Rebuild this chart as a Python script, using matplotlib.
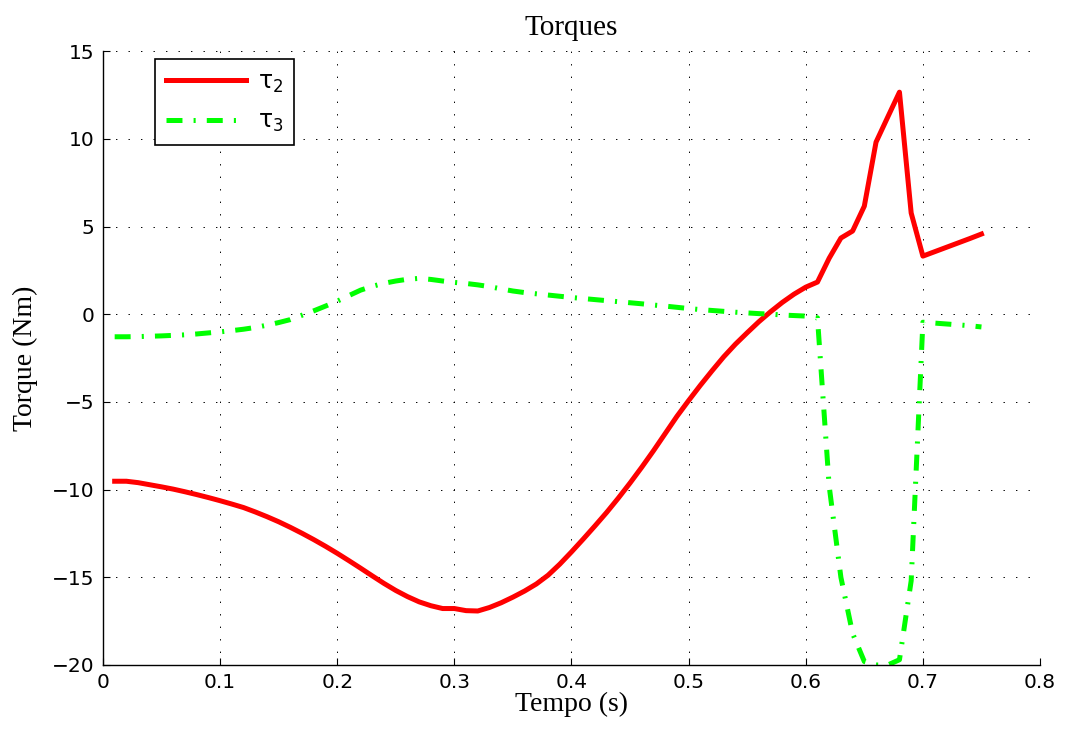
import matplotlib
matplotlib.use('Agg')
import matplotlib.pyplot as plt
import numpy as np

# tempo (s)
tempo = [0.01, 0.02, 0.03, 0.04, 0.05, 0.06, 0.07, 0.08, 0.09, 0.10,
         0.11, 0.12, 0.13, 0.14, 0.15, 0.16, 0.17, 0.18, 0.19, 0.20,
         0.21, 0.22, 0.23, 0.24, 0.25, 0.26, 0.27, 0.28, 0.29, 0.30,
         0.31, 0.32, 0.33, 0.34, 0.35, 0.36, 0.37, 0.38, 0.39, 0.40,
         0.41, 0.42, 0.43, 0.44, 0.45, 0.46, 0.47, 0.48, 0.49, 0.50,
         0.51, 0.52, 0.53, 0.54, 0.55, 0.56, 0.57, 0.58, 0.59, 0.60,
         0.61, 0.62, 0.63, 0.64, 0.65, 0.66, 0.67, 0.68, 0.69, 0.70,
         0.71, 0.72, 0.73, 0.74, 0.75]

tau2 = [-9.52, -9.52, -9.60, -9.72, -9.84, -9.97, -10.12, -10.28, -10.45, -10.63,
        -10.82, -11.02, -11.27, -11.54, -11.83, -12.15, -12.49, -12.85, -13.23, -13.63,
        -14.05, -14.48, -14.92, -15.35, -15.75, -16.10, -16.40, -16.62, -16.78, -16.78,
        -16.90, -16.92, -16.72, -16.45, -16.13, -15.78, -15.38, -14.88, -14.25, -13.55,
        -12.82, -12.07, -11.30, -10.48, -9.62, -8.72, -7.78, -6.80, -5.82, -4.92,
        -4.05, -3.22, -2.42, -1.70, -1.05, -0.42, 0.15, 0.68, 1.15, 1.55,
        1.84, 3.20, 4.35, 4.75, 6.17, 9.82, 11.25, 12.67, 5.78, 3.32,
        3.57, 3.82, 4.07, 4.32, 4.58]

tau3 = [-1.28, -1.28, -1.27, -1.25, -1.23, -1.20, -1.17, -1.12, -1.06, -1.00,
        -0.93, -0.85, -0.75, -0.62, -0.47, -0.30, -0.05, 0.20, 0.47, 0.75,
        1.07, 1.38, 1.60, 1.77, 1.90, 2.00, 2.05, 1.99, 1.90, 1.82,
        1.76, 1.68, 1.58, 1.45, 1.33, 1.24, 1.17, 1.10, 1.03, 0.96,
        0.90, 0.84, 0.78, 0.72, 0.66, 0.60, 0.53, 0.47, 0.40, 0.33,
        0.27, 0.22, 0.17, 0.12, 0.08, 0.04, 0.01, -0.04, -0.07, -0.10,
        -0.20, -9.80, -15.00, -18.20, -19.80, -20.00, -20.00, -19.70, -15.20, -0.45,
        -0.50, -0.55, -0.60, -0.65, -0.72]

xticks = [0, 0.1, 0.2, 0.3, 0.4, 0.5, 0.6, 0.7, 0.8]
xticklabels = ['0', '0.1', '0.2', '0.3', '0.4', '0.5', '0.6', '0.7', '0.8']
yticks = [-20, -15, -10, -5, 0, 5, 10, 15]

plt.rcParams['lines.scale_dashes'] = False
plt.rcParams['mathtext.fontset'] = 'dejavusans'
plt.rcParams['mathtext.default'] = 'regular'

fig = plt.figure(figsize=(10.68, 7.29), dpi=100)
ax = fig.add_axes([0.0964, 0.0878, 0.8774, 0.8418])

ax.plot(tempo, tau2, color='#ff0000', linewidth=3.6, linestyle='-', label=r'$\tau_2$')
ax.plot(tempo, tau3, color='#00ff00', linewidth=3.6, linestyle=(0, (11.5, 8, 1.5, 8)), label=r'$\tau_3$')

ax.set_xlim(0, 0.8)
ax.set_ylim(-20, 15)
ax.set_xticks(xticks)
ax.set_xticklabels(xticklabels)
ax.set_yticks(yticks)
ax.set_yticklabels([str(v).replace('-', '\u2212') for v in yticks])

ax.spines['top'].set_visible(False)
ax.spines['right'].set_visible(False)
ax.spines['left'].set_linewidth(1.0)
ax.spines['bottom'].set_linewidth(1.0)
ax.tick_params(direction='in', length=5, width=0.8, labelsize=14.5, pad=6)
for lab in ax.get_xticklabels() + ax.get_yticklabels():
    lab.set_family('DejaVu Sans')

ax.grid(True, color='black', linestyle=(0, (1, 8)), linewidth=0.7)
ax.set_axisbelow(True)

serif = ['Liberation Serif', 'DejaVu Serif']
ax.set_title('Torques', fontsize=21, family=serif, pad=12)
ax.set_xlabel('Tempo (s)', fontsize=20, family=serif, labelpad=0)
ax.set_ylabel('Torque (Nm)', fontsize=20, family=serif, labelpad=10)

leg = ax.legend(loc='upper left', bbox_to_anchor=(0.0555, 0.9875), borderaxespad=0,
                fontsize=17, handlelength=3.4, handletextpad=0.5, fancybox=False,
                framealpha=1, edgecolor='black', borderpad=0.45, labelspacing=0.6)
leg.get_frame().set_linewidth(1.2)

fig.savefig('out.png', dpi=100)
